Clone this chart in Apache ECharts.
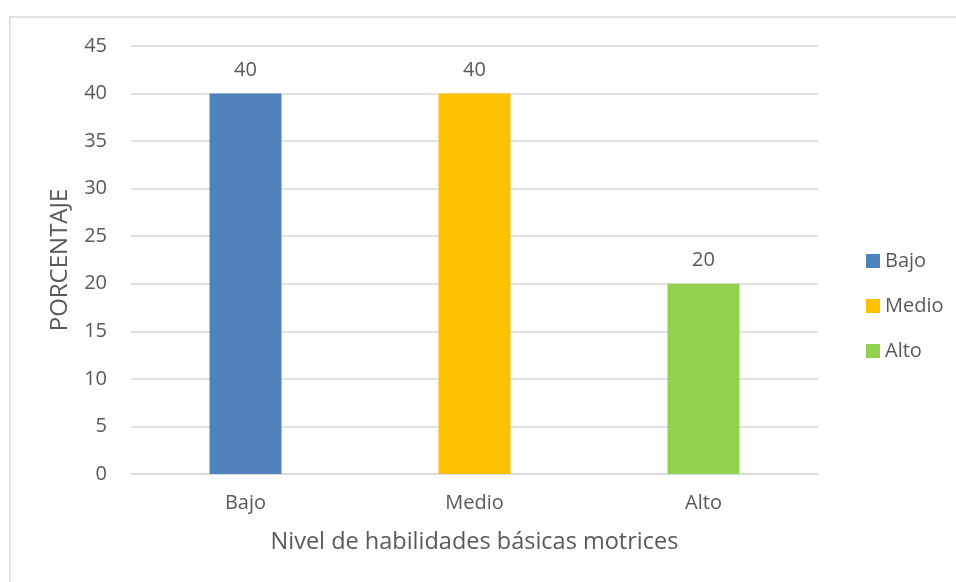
<!DOCTYPE html>
<html>
<head>
<meta charset="utf-8">
<script src="https://cdn.jsdelivr.net/npm/echarts@6/dist/echarts.min.js"></script>
<style>
html,body{margin:0;padding:0;background:#fff;}
#chart{width:956px;height:582px;}
</style>
</head>
<body>
<div id="chart"></div>
<script>
const categories = ['Bajo', 'Medio', 'Alto'];
const values = [40, 40, 20];
const colors = ['#4f81bd', '#ffc000', '#92d050'];
const yTicks = [0, 5, 10, 15, 20, 25, 30, 35, 40, 45];
const xTitle = 'Nivel de habilidades básicas motrices';
const yTitle = 'PORCENTAJE';

const FONT = 'Open Sans';
const TXT = '#595959';

const chart = echarts.init(document.getElementById('chart'));
const series = categories.map((c, i) => ({
  name: c,
  type: 'bar',
  stack: 'total',
  barWidth: 72,
  itemStyle: { color: colors[i] },
  data: categories.map((_, j) => (j === i ? values[i] : '-')),
  label: {
    show: true, position: 'top', distance: 13,
    color: TXT, fontFamily: FONT, fontSize: 20
  }
}));

chart.setOption({
  animation: false,
  textStyle: { fontFamily: FONT },
  graphic: [{
    type: 'rect', shape: { x: 10, y: 17, width: 980, height: 620 },
    style: { fill: 'none', stroke: '#d9d9d9', lineWidth: 1.5 }, silent: true, z: -1
  }],
  grid: { left: 131, right: 138, top: 46, bottom: 108 },
  legend: {
    orient: 'vertical', left: 861, top: 244,
    itemWidth: 14, itemHeight: 14, itemGap: 21,
    icon: 'rect',
    textStyle: { color: TXT, fontFamily: FONT, fontSize: 20, lineHeight: 24 },
    data: categories
  },
  xAxis: {
    type: 'category', data: categories,
    axisLine: { lineStyle: { color: '#d9d9d9', width: 1.5 } },
    axisTick: { show: false },
    axisLabel: { color: TXT, fontFamily: FONT, fontSize: 20, margin: 19 },
    name: xTitle, nameLocation: 'middle', nameGap: 56,
    nameTextStyle: { color: TXT, fontFamily: FONT, fontSize: 23.5 }
  },
  yAxis: {
    type: 'value', min: yTicks[0], max: yTicks[yTicks.length - 1], interval: 5,
    axisLine: { show: false }, axisTick: { show: false },
    splitLine: { lineStyle: { color: '#d9d9d9', width: 1.5 } },
    axisLabel: { color: TXT, fontFamily: FONT, fontSize: 20, margin: 24 },
    name: yTitle, nameLocation: 'middle', nameGap: 59,
    nameTextStyle: { color: TXT, fontFamily: FONT, fontSize: 24 }
  },
  series: series
});
</script>
</body>
</html>
